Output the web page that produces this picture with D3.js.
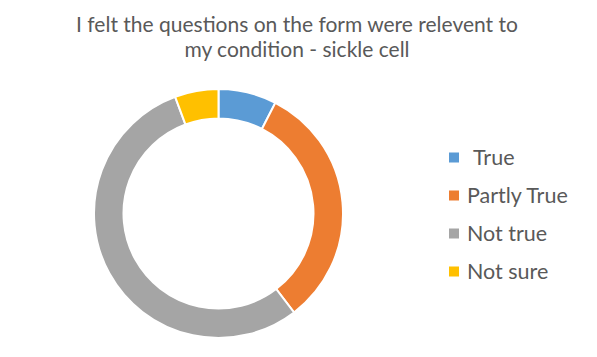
<!DOCTYPE html>
<html><head><meta charset="utf-8">
<script src="https://cdn.jsdelivr.net/npm/d3@7"></script>
<style>body{margin:0;background:#fff}svg{display:block}</style>
</head><body>
<svg id="chart" width="597" height="357"></svg>
<script>
const categories = ["True", "Partly True", "Not true", "Not sure"];
const values = [4, 17, 29, 3];
const colors = ["#5b9bd5", "#ed7d31", "#a5a5a5", "#ffc000"];
const titleLines = ["I felt the questions on the form were relevent to", "my condition - sickle cell"];

const svg = d3.select("#chart");
const font = "Lato, 'Open Sans', sans-serif";
const textColor = "#595959";

const title = svg.append("text")
  .attr("text-anchor", "middle")
  .attr("font-family", font).attr("font-size", 21)
  .attr("fill", textColor);
title.selectAll("tspan").data(titleLines).join("tspan")
  .attr("x", 297).attr("y", (d, i) => 31.5 + i * 25.5)
  .text(d => d);

const pie = d3.pie().sort(null).value(d => d);
const arc = d3.arc().innerRadius(95).outerRadius(124.5);
const g = svg.append("g").attr("transform", "translate(218.5,213.5)");
g.selectAll("path").data(pie(values)).join("path")
  .attr("d", arc)
  .attr("fill", (d, i) => colors[i])
  .attr("stroke", "#fff").attr("stroke-width", 2);

const leg = svg.append("g").attr("transform", "translate(449,157.5)");
const item = leg.selectAll("g").data(categories).join("g")
  .attr("transform", (d, i) => `translate(0,${i * 38})`);
item.append("rect").attr("x", 0).attr("y", -5).attr("width", 10).attr("height", 10)
  .attr("fill", (d, i) => colors[i]);
item.append("text").attr("x", (d, i) => i === 0 ? 24 : 18).attr("y", 0)
  .attr("dy", "0.35em")
  .attr("font-family", font).attr("font-size", 21.5)
  .attr("fill", textColor).text(d => d);
</script>
</body></html>
